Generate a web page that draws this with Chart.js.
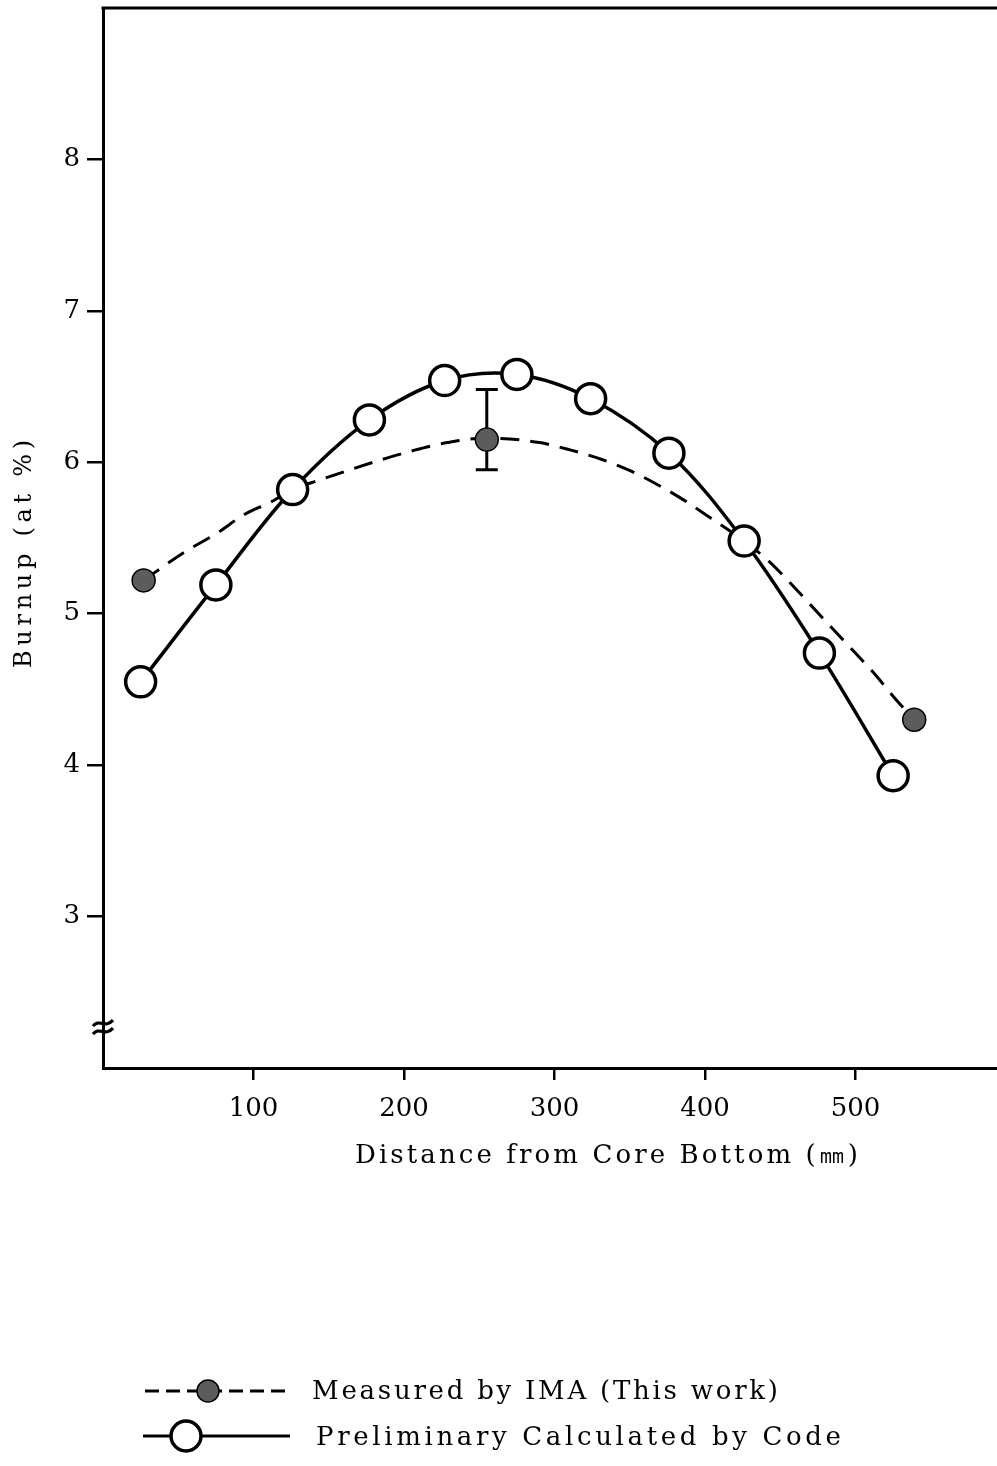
<!DOCTYPE html>
<html>
<head>
<meta charset="utf-8">
<script src="https://cdn.jsdelivr.net/npm/chart.js@4.4.1/dist/chart.umd.min.js"></script>
<style>
  html, body { margin: 0; padding: 0; background: #fff; }
  #wrap { width: 997px; height: 1466px; position: relative; }
</style>
</head>
<body>
<div id="wrap"><canvas id="c" width="997" height="1466"></canvas></div>
<script>
// ---- data ----
const xTicks = [100, 200, 300, 400, 500];
const yTicks = [3, 4, 5, 6, 7, 8];

// Preliminary Calculated by Code (open circles, solid curve)
const calcX = [25, 75, 126, 177, 227, 275, 324, 376, 426, 476, 525];
const calcY = [4.55, 5.19, 5.82, 6.28, 6.54, 6.58, 6.42, 6.06, 5.48, 4.74, 3.93];

// Measured by IMA (filled circles)
const measX = [27, 255, 539];
const measY = [5.22, 6.15, 4.30];
const measErrLow  = [null, 5.95, null];
const measErrHigh = [null, 6.48, null];

// Dashed curve through the measured points
const fitX = [27, 53, 77, 93, 112, 126, 143, 164, 186, 207, 229, 255, 290, 311, 331, 349, 367, 386, 404, 426, 442, 455, 470, 483, 499, 512, 528, 539];
const fitY = [5.22, 5.40, 5.54, 5.65, 5.74, 5.82, 5.88, 5.95, 6.02, 6.08, 6.13, 6.16, 6.13, 6.08, 6.02, 5.95, 5.86, 5.75, 5.63, 5.48, 5.35, 5.22, 5.06, 4.92, 4.75, 4.61, 4.42, 4.30];

const xTitle = "Distance from Core Bottom (\u339C)";
const yTitle = "Burnup (at %)";
const legendMeasured = "Measured by IMA (This work)";
const legendCalc = "Preliminary Calculated by Code";

const FONT = "'DejaVu Serif', 'Liberation Serif', serif";
const MEAS_FILL = '#5c5c5c';

function pts(xs, ys) { return xs.map((x, i) => ({ x: x, y: ys[i] })); }

function spacedText(ctx, text, left, y, width) {
  ctx.save();
  ctx.letterSpacing = '0px';
  const w = ctx.measureText(text).width;
  const n = text.length;
  const sp = n > 1 ? (width - w) / (n - 1) : 0;
  ctx.letterSpacing = sp + 'px';
  ctx.textAlign = 'left';
  ctx.fillText(text, left, y);
  ctx.restore();
}

function noPad(s) { s.paddingTop = 0; s.paddingBottom = 0; s.paddingLeft = 0; s.paddingRight = 0; }

const decor = {
  id: 'decor',
  beforeDatasetsDraw(chart) {
    const ctx = chart.ctx;
    const xs = chart.scales.x, ys = chart.scales.y;
    ctx.save();
    ctx.strokeStyle = '#000';
    ctx.lineWidth = 3;
    measX.forEach((x, i) => {
      if (measErrLow[i] == null) return;
      const px = xs.getPixelForValue(x);
      const y1 = ys.getPixelForValue(measErrLow[i]);
      const y2 = ys.getPixelForValue(measErrHigh[i]);
      ctx.beginPath();
      ctx.moveTo(px, y1); ctx.lineTo(px, y2);
      ctx.moveTo(px - 11, y1); ctx.lineTo(px + 11, y1);
      ctx.moveTo(px - 11, y2); ctx.lineTo(px + 11, y2);
      ctx.stroke();
    });
    ctx.restore();
  },
  afterDraw(chart) {
    const ctx = chart.ctx;
    const a = chart.chartArea;
    const ys = chart.scales.y;
    ctx.save();
    ctx.strokeStyle = '#000';
    ctx.lineWidth = 3;
    ctx.beginPath();
    ctx.moveTo(a.left - 1.5, a.top);
    ctx.lineTo(a.right + 2, a.top);
    ctx.stroke();

    // axis break symbol
    const by = ys.getPixelForValue(2.27);
    ctx.lineWidth = 3.2;
    [-4, 4].forEach(off => {
      const cy = by + off;
      ctx.beginPath();
      ctx.moveTo(a.left - 10, cy + 3);
      ctx.bezierCurveTo(a.left - 4, cy - 5, a.left + 2, cy + 6, a.left + 10, cy - 3);
      ctx.stroke();
    });

    // axis titles
    ctx.fillStyle = '#000';
    ctx.textBaseline = 'middle';
    ctx.font = '26px ' + FONT;
    spacedText(ctx, xTitle, 355, 1156, 503);
    ctx.save();
    ctx.translate(25, 554);
    ctx.rotate(-Math.PI / 2);
    ctx.font = '24px ' + FONT;
    spacedText(ctx, yTitle, -114, 0, 228);
    ctx.restore();

    // legend
    ctx.strokeStyle = '#000';
    ctx.lineWidth = 3;
    ctx.save();
    ctx.setLineDash([14, 7]);
    ctx.beginPath();
    ctx.moveTo(145, 1391); ctx.lineTo(290, 1391);
    ctx.stroke();
    ctx.restore();
    ctx.beginPath();
    ctx.arc(208, 1391, 11, 0, Math.PI * 2);
    ctx.fillStyle = MEAS_FILL; ctx.fill();
    ctx.lineWidth = 1.5; ctx.stroke();
    ctx.lineWidth = 3;
    ctx.beginPath();
    ctx.moveTo(143, 1436); ctx.lineTo(290, 1436);
    ctx.stroke();
    ctx.beginPath();
    ctx.arc(186, 1436, 15, 0, Math.PI * 2);
    ctx.fillStyle = '#fff'; ctx.fill();
    ctx.lineWidth = 3.5; ctx.stroke();

    ctx.fillStyle = '#000';
    ctx.font = '26px ' + FONT;
    spacedText(ctx, legendMeasured, 312, 1392, 466);
    spacedText(ctx, legendCalc, 316, 1438, 525);
    ctx.restore();
  }
};

new Chart(document.getElementById('c'), {
  type: 'line',
  data: {
    datasets: [
      {
        label: legendMeasured,
        data: pts(measX, measY),
        showLine: false,
        pointRadius: 11.5,
        pointHoverRadius: 11.5,
        pointBackgroundColor: MEAS_FILL,
        pointBorderColor: '#000',
        pointBorderWidth: 1.5
      },
      {
        label: legendCalc,
        data: pts(calcX, calcY),
        borderColor: '#000',
        borderWidth: 3.5,
        tension: 0.35,
        pointRadius: 15,
        pointHoverRadius: 15,
        pointBackgroundColor: '#fff',
        pointBorderColor: '#000',
        pointBorderWidth: 3.5
      },
      {
        label: 'fit',
        data: pts(fitX, fitY),
        borderColor: '#000',
        borderWidth: 3,
        borderDash: [19, 11],
        cubicInterpolationMode: 'monotone',
        pointRadius: 0,
        pointHoverRadius: 0
      }
    ]
  },
  options: {
    responsive: false,
    animation: false,
    events: [],
    layout: { autoPadding: false, padding: { top: 8, right: 0, left: 0, bottom: 0 } },
    plugins: { legend: { display: false }, tooltip: { enabled: false }, title: { display: false } },
    scales: {
      x: {
        type: 'linear',
        min: 0,
        max: 594,
        afterBuildTicks: s => { s.ticks = xTicks.map(v => ({ value: v })); },
        afterFit: s => { s.height = 1466 - 1068; noPad(s); },
        border: { display: true, color: '#000', width: 3 },
        grid: { display: true, drawOnChartArea: false, drawTicks: true, tickLength: 12, color: '#000', lineWidth: 2.5 },
        ticks: { color: '#000', font: { family: FONT, size: 26 }, padding: 14, maxRotation: 0 }
      },
      y: {
        type: 'linear',
        min: 2,
        max: 9,
        afterBuildTicks: s => { s.ticks = yTicks.map(v => ({ value: v })); },
        afterFit: s => { s.width = 103; noPad(s); },
        border: { display: true, color: '#000', width: 3 },
        grid: { display: true, drawOnChartArea: false, drawTicks: true, tickLength: 16, color: '#000', lineWidth: 2.5 },
        ticks: { color: '#000', font: { family: FONT, size: 26 }, padding: 7 }
      }
    }
  },
  plugins: [decor]
});
</script>
</body>
</html>
